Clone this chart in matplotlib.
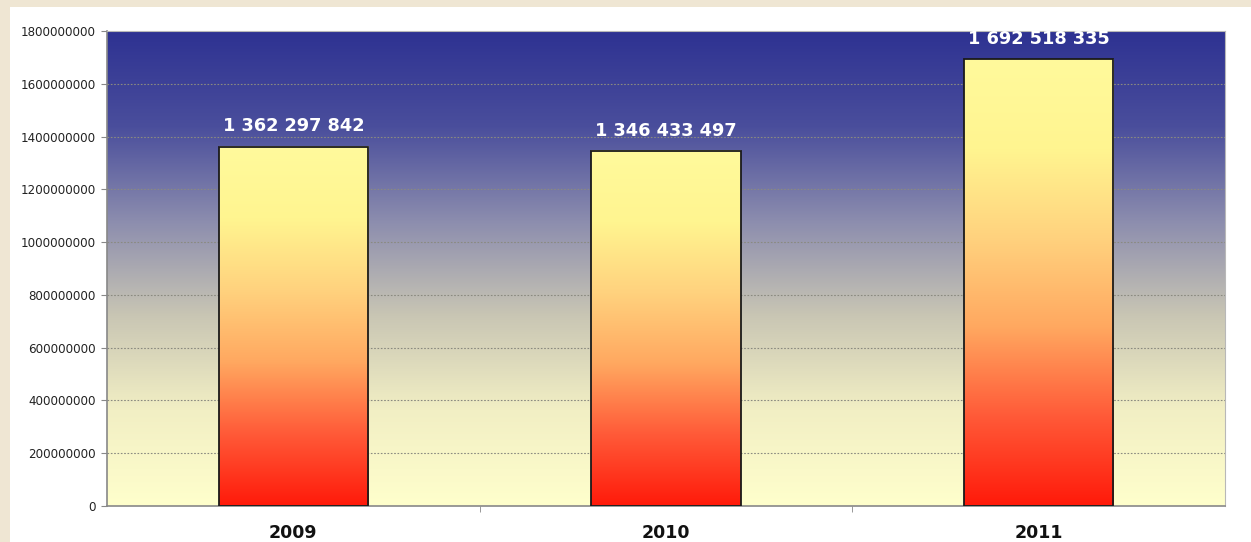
import numpy as np
import matplotlib.pyplot as plt
from matplotlib.colors import LinearSegmentedColormap
from matplotlib.patches import Rectangle

years = ['2009', '2010', '2011']
values = [1362297842, 1346433497, 1692518335]
labels = ['1 362 297 842', '1 346 433 497', '1 692 518 335']
yticks = [0, 200000000, 400000000, 600000000, 800000000,
          1000000000, 1200000000, 1400000000, 1600000000, 1800000000]

plt.rcParams['font.family'] = ['DejaVu Sans']

fig = plt.figure(figsize=(12.51, 5.42), dpi=100, facecolor='#efe6d3')
# white panel inside the beige frame
fig.patches.append(Rectangle((10 / 1251, 0), 1, 1 - 7 / 542, transform=fig.transFigure,
                             facecolor='white', edgecolor='none', zorder=-10))

ax = fig.add_axes([107 / 1251, 1 - 506 / 542, 1118 / 1251, 475 / 542])
ax.set_xlim(-0.5, 2.5)
ax.set_ylim(0, 1800000000)

# background gradient: dark blue top -> pale yellow bottom
bg = LinearSegmentedColormap.from_list('bg', ['#ffffcc', '#f2efc4', '#c9c6b4', '#8c8dae', '#4a4e9c', '#2e3292'])
grad = np.linspace(0, 1, 256).reshape(-1, 1)
ax.imshow(grad, cmap=bg, origin='lower', aspect='auto',
          extent=(-0.5, 2.5, 0, 1800000000), zorder=0)

# gridlines
for y in yticks[1:-1]:
    ax.axhline(y, color='#8a8a80', linestyle=(0, (1.5, 1.5)), linewidth=0.8, zorder=1)

# bars with yellow -> red gradient
barcm = LinearSegmentedColormap.from_list('bar', ['#ff1a0a', '#ff5a38', '#ffa860', '#ffd27e', '#fff590', '#fffa9c'])
w = 0.4
x = np.arange(len(years))
for xi, v, lab in zip(x, values, labels):
    ax.imshow(grad, cmap=barcm, origin='lower', aspect='auto',
              extent=(xi - w / 2, xi + w / 2, 0, v), zorder=2)
    ax.bar(xi, v, width=w, facecolor='none', edgecolor='#1a1a1a', linewidth=1.3, zorder=3)
    ax.annotate(lab, (xi, v), xytext=(0, 8), textcoords='offset points',
                ha='center', va='bottom', color='white', fontsize=12.8, fontweight='bold', zorder=4)

ax.set_xlim(-0.5, 2.5)
ax.set_ylim(0, 1800000000)
ax.set_yticks(yticks)
ax.set_yticklabels([str(t) for t in yticks], fontsize=8.6, color='#222222')
ax.set_xticks(x)
ax.set_xticklabels(years, fontsize=12.5, fontweight='bold', color='#111111')
ax.tick_params(axis='x', length=0, pad=13)
ax.set_xticks([0.5, 1.5], minor=True)
ax.tick_params(axis='x', which='minor', length=4, color='#888888')
ax.tick_params(axis='y', length=4, color='#888888', pad=4)

for s in ['top', 'right']:
    ax.spines[s].set_color('#b8b8b8')
    ax.spines[s].set_linewidth(0.8)
for s in ['left', 'bottom']:
    ax.spines[s].set_color('#888888')
    ax.spines[s].set_linewidth(1.2)

fig.savefig('out.png', dpi=100, facecolor=fig.get_facecolor())
